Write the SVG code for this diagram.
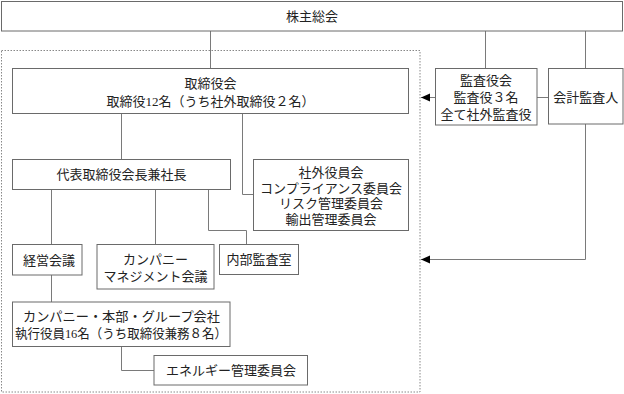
<svg xmlns="http://www.w3.org/2000/svg" width="624" height="394" viewBox="0 0 624 394">
<style>
.box{fill:#fff;stroke:#6a6a6a;stroke-width:1}
.ln{fill:none;stroke:#7a7a7a;stroke-width:1}
.dot{fill:none;stroke:#888;stroke-width:1;stroke-dasharray:1.5 1.5}
text{font-family:"Liberation Serif","Noto Sans CJK JP",serif;font-size:13px;fill:#222;text-anchor:middle;dominant-baseline:central}
</style>
<defs>
<marker id="ah" markerUnits="userSpaceOnUse" markerWidth="10" markerHeight="10" refX="9" refY="4" orient="auto">
<path d="M0,0 L9,4 L0,8 Z" fill="#000"/>
</marker>
</defs>
<rect x="0" y="0" width="624" height="394" fill="#fff"/>
<rect class="dot" x="1.5" y="50.5" width="418.5" height="341.5"/>
<g id="connectors">
<path class="ln" d="M210.5,31 V68"/>
<path class="ln" d="M485.5,31 V68"/>
<path class="ln" d="M585.5,31 V68"/>
<path class="ln" d="M537,97.5 H548"/>
<path class="ln" d="M435,97.5 H421" marker-end="url(#ah)"/>
<path class="ln" d="M585.5,124 V259.5 H421" marker-end="url(#ah)"/>
<path class="ln" d="M121.5,114 V159"/>
<path class="ln" d="M242.5,114 V194.5 H253"/>
<path class="ln" d="M51.5,189 V244"/>
<path class="ln" d="M155.5,189 V244"/>
<path class="ln" d="M208.5,189 V230.5 H246.5 V244"/>
<path class="ln" d="M51.5,275 V302"/>
<path class="ln" d="M121.5,347 V370.5 H154"/>
</g>
<g id="shareholders"><rect class="box" x="1.5" y="1.5" width="621" height="29.5"/><text x="312" y="16">株主総会</text></g>
<g id="board"><rect class="box" x="12.5" y="68.5" width="396" height="45"/><text x="210.5" y="83">取締役会</text><text x="210.5" y="101">取締役12名（うち社外取締役２名）</text></g>
<g id="auditors"><rect class="box" x="435.5" y="68.5" width="101.5" height="56.5"/><text x="486" y="80.5">監査役会</text><text x="486" y="97.5">監査役３名</text><text x="486" y="114">全て社外監査役</text></g>
<g id="accounting"><rect class="box" x="548.5" y="68.5" width="74.5" height="55.5"/><text x="585.7" y="97.5">会計監査人</text></g>
<g id="president"><rect class="box" x="12.5" y="159.5" width="218" height="30"/><text x="121.5" y="174.5">代表取締役会長兼社長</text></g>
<g id="committees"><rect class="box" x="253.5" y="159.5" width="155" height="71"/><text x="331" y="172.5">社外役員会</text><text x="331" y="188">コンプライアンス委員会</text><text x="331" y="203.5">リスク管理委員会</text><text x="331" y="219">輸出管理委員会</text></g>
<g id="management"><rect class="box" x="12.5" y="244.5" width="69.5" height="30.5"/><text x="49" y="260">経営会議</text></g>
<g id="company-mgmt"><rect class="box" x="97" y="244.5" width="117" height="44.5"/><text x="155.5" y="259">カンパニー</text><text x="155.5" y="276.5">マネジメント会議</text></g>
<g id="internal-audit"><rect class="box" x="219.5" y="244.5" width="79" height="30"/><text x="259" y="259.5">内部監査室</text></g>
<g id="executives"><rect class="box" x="12.5" y="302" width="217.5" height="44.5"/><text x="121.5" y="316" textLength="197" lengthAdjust="spacingAndGlyphs">カンパニー・本部・グループ会社</text><text x="121" y="333" textLength="212" lengthAdjust="spacingAndGlyphs">執行役員16名（うち取締役兼務８名）</text></g>
<g id="energy"><rect class="box" x="154" y="355.5" width="153.5" height="29.5"/><text x="231" y="370.5">エネルギー管理委員会</text></g>
</svg>
